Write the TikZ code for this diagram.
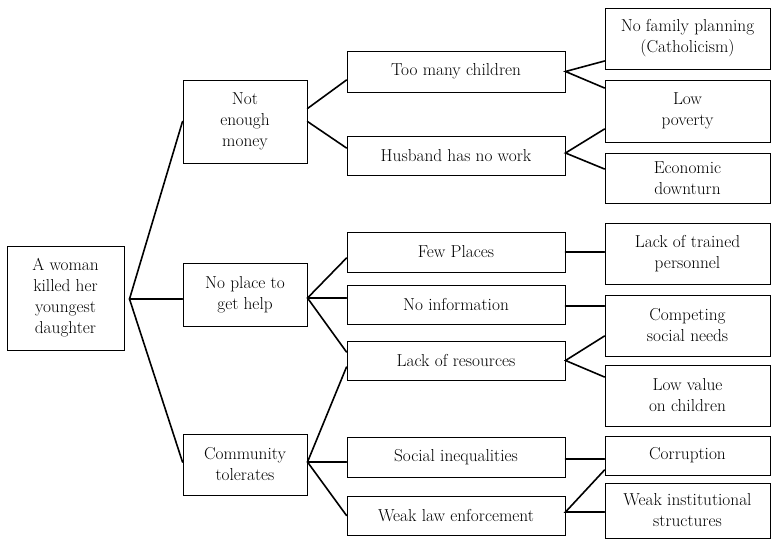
\documentclass[tikz,border=0pt]{standalone}
\usetikzlibrary{calc}
\begin{document}
\begin{tikzpicture}[x=1pt,y=-1pt,
  box/.style={draw=black,line width=1pt,rectangle,inner sep=0pt,align=center,
    font=\fontsize{17.3}{21}\selectfont},
  conn/.style={line width=1.6pt,line cap=round}]
\useasboundingbox (0,0) rectangle (771,539);
% level 0
\node[box,minimum width=117pt,minimum height=104pt] (root) at (65.5,298) {A woman\\killed her\\youngest\\daughter};
% level 1
\node[box,minimum width=124pt,minimum height=83pt] (nem) at (245,121.5) {Not\\enough\\money};
\node[box,minimum width=124pt,minimum height=63pt] (nph) at (245,294.5) {No place to\\get help};
\node[box,minimum width=124pt,minimum height=61pt] (ct) at (245,464.5) {Community\\tolerates};
% level 2
\node[box,minimum width=218pt,minimum height=41pt] (tmc) at (456,71.5) {Too many children};
\node[box,minimum width=218pt,minimum height=39pt] (hnw) at (456,155.5) {Husband has no work};
\node[box,minimum width=218pt,minimum height=40pt] (fp) at (456,252) {Few Places};
\node[box,minimum width=218pt,minimum height=39pt] (ni) at (456,304.5) {No information};
\node[box,minimum width=218pt,minimum height=39pt] (lr) at (456,360.5) {Lack of resources};
\node[box,minimum width=218pt,minimum height=40pt] (si) at (456,457) {Social inequalities};
\node[box,minimum width=218pt,minimum height=39pt] (wle) at (456,515.5) {Weak law enforcement};
% level 3
\node[box,minimum width=165pt,minimum height=61pt] (nfp) at (687.5,38.5) {No family planning\\(Catholicism)};
\node[box,minimum width=165pt,minimum height=62pt] (lp) at (687.5,111) {Low\\poverty};
\node[box,minimum width=165pt,minimum height=50pt] (ed) at (687.5,178) {Economic\\downturn};
\node[box,minimum width=165pt,minimum height=61pt] (ltp) at (687.5,253.5) {Lack of trained\\personnel};
\node[box,minimum width=165pt,minimum height=61pt] (csn) at (687.5,325.5) {Competing\\social needs};
\node[box,minimum width=165pt,minimum height=61pt] (lvc) at (687.5,395.5) {Low value\\on children};
\node[box,minimum width=165pt,minimum height=39pt] (cor) at (687.5,455.5) {Corruption};
\node[box,minimum width=165pt,minimum height=55pt] (wis) at (687.5,510.5) {Weak institutional\\structures};
% fork points
\coordinate (f0) at ([xshift=5pt,yshift=-1pt]root.east);
\coordinate (fnph) at ([yshift=-3.5pt]nph.east);
\coordinate (fct) at ([yshift=2.5pt]ct.east);
\coordinate (fhnw) at ([yshift=2.5pt]hnw.east);
\coordinate (fwle) at ([yshift=3.5pt]wle.east);
% connectors
\draw[conn] (nem.west) -- (f0) -- ([yshift=2.5pt]ct.west);
\draw[conn] (f0) -- (f0 -| nph.west);
\draw[conn] ([yshift=13pt]nem.east) -- ([yshift=-8.5pt]tmc.west);
\draw[conn] (nem.east) -- ([yshift=7.5pt]hnw.west);
\draw[conn] ([yshift=-22.5pt]nfp.west) -- (tmc.east) -- ([yshift=23pt]lp.west);
\draw[conn] ([yshift=-18pt]lp.west) -- (fhnw) -- ([yshift=9pt]ed.west);
\draw[conn] ([yshift=-6pt]fp.west) -- (fnph) -- ([yshift=8.5pt]lr.west);
\draw[conn] (fnph) -- (fnph -| ni.west);
\draw[conn] (fp.east) -- (fp.east -| ltp.west);
\draw[conn] ([yshift=-1.5pt]ni.east) -- ([yshift=-1.5pt]ni.east -| csn.west);
\draw[conn] ([yshift=-10.5pt]csn.west) -- (lr.east) -- ([yshift=18.5pt]lvc.west);
\draw[conn] ([yshift=-6.5pt]lr.west) -- (fct) -- (wle.west);
\draw[conn] (fct) -- (fct -| si.west);
\draw[conn] ([yshift=-2pt]si.east) -- ([yshift=-2pt]si.east -| cor.west);
\draw[conn] ([yshift=-14.5pt]cor.west) -- (fwle) -- (fwle -| wis.west);
\end{tikzpicture}
\end{document}
